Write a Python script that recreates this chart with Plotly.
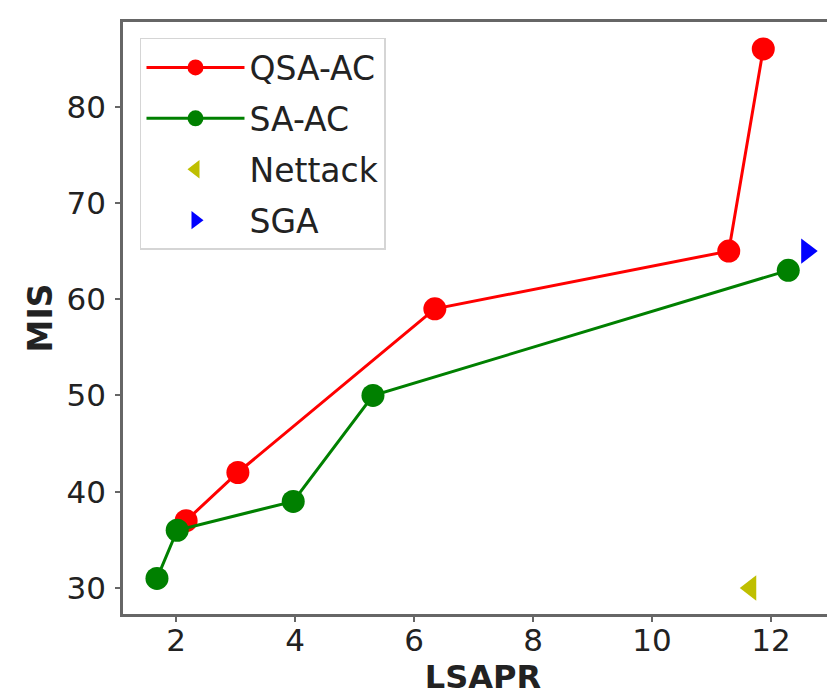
import plotly.graph_objects as go

qsa_x = [2.17, 3.04, 6.35, 11.29, 11.87]
qsa_y = [37, 42, 59, 65, 86]
sa_x = [1.68, 2.02, 3.97, 5.31, 12.29]
sa_y = [31, 36, 39, 50, 63]
nettack_x = [11.66]
nettack_y = [30]
sga_x = [12.6]
sga_y = [65]

x_ticks = [2, 4, 6, 8, 10, 12]
y_ticks = [30, 40, 50, 60, 70, 80]

FONT = "DejaVu Sans"

fig = go.Figure()
fig.add_trace(go.Scatter(x=qsa_x, y=qsa_y, mode="lines+markers", name="QSA-AC",
                         line=dict(color="red", width=3),
                         marker=dict(color="red", size=23, symbol="circle"),
                         legendgroup="a"))
fig.add_trace(go.Scatter(x=sa_x, y=sa_y, mode="lines+markers", name="SA-AC",
                         line=dict(color="green", width=3),
                         marker=dict(color="green", size=23, symbol="circle"),
                         legendgroup="b"))
fig.add_trace(go.Scatter(x=nettack_x, y=nettack_y, mode="markers", name="Nettack",
                         marker=dict(color="#bfbf00", size=22, symbol="triangle-left"),
                         legendgroup="c"))
fig.add_trace(go.Scatter(x=sga_x, y=sga_y, mode="markers", name="SGA",
                         marker=dict(color="blue", size=22, symbol="triangle-right"),
                         legendgroup="d"))

axis_common = dict(
    showgrid=False, zeroline=False, showline=True, linecolor="#666", linewidth=2.5,
    ticks="outside", ticklen=5, tickwidth=1.5, tickcolor="#666",
    tickfont=dict(family=FONT, size=31, color="#222"),
)

fig.update_layout(
    width=835, height=695,
    margin=dict(l=115, r=0, t=14, b=89),
    paper_bgcolor="white", plot_bgcolor="white",
    font=dict(family=FONT, color="#222"),
    xaxis=dict(range=[1.109, 13.21], tickvals=x_ticks, mirror=True,
               ticklabelstandoff=-8,
               title=dict(text="<b>LSAPR</b>", font=dict(family=FONT, size=32), standoff=3),
               **axis_common),
    yaxis=dict(range=[27.3, 88.8], tickvals=y_ticks,
               ticklabelstandoff=3,
               title=dict(text="<b>MIS</b>", font=dict(family=FONT, size=33), standoff=5),
               **axis_common),
    legend=dict(x=0.0236, y=0.973, xanchor="left", yanchor="top",
                bgcolor="white", bordercolor="#d5d5d5", borderwidth=1.5,
                font=dict(family=FONT, size=33, color="#222"),
                itemwidth=98,
                traceorder="grouped", tracegroupgap=5),
)

fig.write_html("out.html")
